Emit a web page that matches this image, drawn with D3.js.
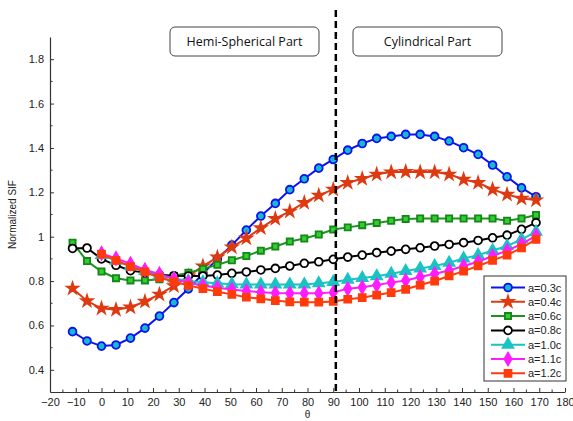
<!DOCTYPE html>
<html>
<head>
<meta charset="utf-8">
<script src="https://cdn.jsdelivr.net/npm/d3@7"></script>
<style>
  body { margin: 0; background: #fff; }
  svg { display: block; }
</style>
</head>
<body>
<svg id="chart"></svg>
<script>
// angle positions along the crack front
var theta = [-11.25, -5.625, 0, 5.625, 11.25, 16.875, 22.5, 28.125, 33.75, 39.375, 45,
  50.625, 56.25, 61.875, 67.5, 73.125, 78.75, 84.375, 90, 95.625, 101.25, 106.875,
  112.5, 118.125, 123.75, 129.375, 135, 140.625, 146.25, 151.875, 157.5, 163.125, 168.75];

var seriesNames = ["a=0.3c", "a=0.4c", "a=0.6c", "a=0.8c", "a=1.0c", "a=1.1c", "a=1.2c"];

var sifA03 = [0.572, 0.530, 0.507, 0.512, 0.543, 0.588, 0.642, 0.703, 0.765, 0.833, 0.900,
  0.962, 1.030, 1.093, 1.150, 1.212, 1.261, 1.309, 1.348, 1.390, 1.420, 1.443,
  1.452, 1.461, 1.461, 1.452, 1.431, 1.401, 1.371, 1.323, 1.270, 1.220, 1.180];
var sifA04 = [0.767, 0.710, 0.677, 0.671, 0.682, 0.708, 0.740, 0.778, 0.822, 0.867, 0.907,
  0.953, 0.993, 1.039, 1.081, 1.114, 1.153, 1.186, 1.213, 1.243, 1.261, 1.281,
  1.291, 1.293, 1.291, 1.291, 1.281, 1.258, 1.243, 1.213, 1.190, 1.172, 1.165];
var sifA06 = [0.973, 0.890, 0.843, 0.813, 0.803, 0.803, 0.808, 0.823, 0.838, 0.855, 0.873,
  0.894, 0.913, 0.937, 0.956, 0.978, 0.992, 1.010, 1.032, 1.042, 1.052, 1.062,
  1.072, 1.080, 1.082, 1.082, 1.082, 1.082, 1.082, 1.082, 1.072, 1.082, 1.098];
var sifA08 = [0.947, 0.949, 0.900, 0.871, 0.847, 0.838, 0.828, 0.824, 0.823, 0.823, 0.827,
  0.835, 0.841, 0.850, 0.857, 0.868, 0.880, 0.887, 0.898, 0.908, 0.917, 0.928,
  0.935, 0.943, 0.950, 0.958, 0.965, 0.973, 0.983, 0.995, 1.007, 1.033, 1.063];
var sifA10 = [null, null, 0.917, 0.892, 0.868, 0.846, 0.826, 0.812, 0.800, 0.795, 0.790,
  0.786, 0.785, 0.785, 0.785, 0.785, 0.785, 0.790, 0.796, 0.806, 0.814, 0.822,
  0.833, 0.845, 0.857, 0.868, 0.883, 0.902, 0.917, 0.938, 0.958, 0.988, 1.022];
var sifA11 = [null, null, 0.925, 0.902, 0.878, 0.850, 0.832, 0.810, 0.793, 0.780, 0.770,
  0.762, 0.755, 0.750, 0.746, 0.745, 0.745, 0.745, 0.749, 0.765, 0.772, 0.782,
  0.793, 0.803, 0.818, 0.833, 0.848, 0.868, 0.887, 0.913, 0.937, 0.967, 1.005];
var sifA12 = [null, null, 0.921, 0.893, 0.865, 0.841, 0.815, 0.798, 0.780, 0.766, 0.752,
  0.740, 0.727, 0.720, 0.712, 0.706, 0.705, 0.705, 0.708, 0.718, 0.725, 0.737,
  0.748, 0.763, 0.782, 0.800, 0.823, 0.845, 0.868, 0.893, 0.917, 0.950, 0.988];

var xTicks = [-20, -10, 0, 10, 20, 30, 40, 50, 60, 70, 80, 90, 100, 110, 120, 130, 140, 150, 160, 170, 180];
var yTicks = [0.4, 0.6, 0.8, 1, 1.2, 1.4, 1.6, 1.8];
var dividerTheta = 91;
var regionLabels = ["Hemi-Spherical Part", "Cylindrical Part"];

var W = 573, H = 421;
var m = { left: 50, right: 8, top: 37, bottom: 29 };

var svg = d3.select("#chart").attr("width", W).attr("height", H);

var x = d3.scaleLinear().domain([-20, 180]).range([m.left, W - m.right]);
var y = d3.scaleLinear().domain([0.3, 1.9]).range([H - m.bottom, m.top]);

// styles per series, same order as seriesNames
var styles = [
  { line: "#0a14f0", fill: "#19b8cc", stroke: "#0a14f0", sym: d3.symbolCircle, size: 48 },
  { line: "#de3a12", fill: "#de3a12", stroke: "#de3a12", sym: d3.symbolStar, size: 38 },
  { line: "#1d951d", fill: "#2fd02f", stroke: "#17851a", sym: d3.symbolSquare, size: 38 },
  { line: "#000000", fill: "#ffffff", stroke: "#000000", sym: d3.symbolCircle, size: 48 },
  { line: "#18c3c3", fill: "#18c3c3", stroke: "#18c3c3", sym: d3.symbolTriangle, size: 50 },
  { line: "#ff1cff", fill: "#ff1cff", stroke: "#ff1cff", sym: d3.symbolDiamond, size: 46 },
  { line: "#ff3b0c", fill: "#ff3b0c", stroke: "#ff3b0c", sym: d3.symbolSquare, size: 48 }
];
var values = [sifA03, sifA04, sifA06, sifA08, sifA10, sifA11, sifA12];

var series = seriesNames.map(function(name, i) {
  return {
    name: name,
    style: styles[i],
    points: theta.map(function(t, j) { return { t: t, v: values[i][j] }; })
      .filter(function(p) { return p.v != null; })
  };
});

// axes
var axisFont = "'Liberation Sans', Arial, sans-serif";

var xAxis = svg.append("g")
  .attr("transform", "translate(0," + (H - m.bottom) + ")")
  .call(d3.axisBottom(x).tickValues(xTicks).tickFormat(d3.format("d"))
    .tickSizeInner(-4).tickSizeOuter(0).tickPadding(6));
xAxis.append("g").selectAll("line")
  .data(d3.range(-15, 180, 10))
  .enter().append("line")
  .attr("x1", function(d) { return x(d); })
  .attr("x2", function(d) { return x(d); })
  .attr("y1", 0).attr("y2", -2.5)
  .attr("stroke", "#333");

var yAxis = svg.append("g")
  .attr("transform", "translate(" + m.left + ",0)")
  .call(d3.axisLeft(y).tickValues(yTicks).tickFormat(function(d) { return d === 1 ? "1" : d3.format(".1f")(d); })
    .tickSizeInner(-4).tickSizeOuter(0).tickPadding(6));
yAxis.append("g").selectAll("line")
  .data([0.5, 0.7, 0.9, 1.1, 1.3, 1.5, 1.7])
  .enter().append("line")
  .attr("y1", function(d) { return y(d); })
  .attr("y2", function(d) { return y(d); })
  .attr("x1", 0).attr("x2", 2.5)
  .attr("stroke", "#333");

svg.selectAll(".domain").attr("stroke", "#333").attr("stroke-width", 1.2);
svg.selectAll(".tick line").attr("stroke", "#333");
svg.selectAll(".tick text")
  .attr("font-family", axisFont)
  .attr("font-size", 11)
  .attr("fill", "#222");

svg.append("text")
  .attr("transform", "translate(16," + ((m.top + H - m.bottom) / 2) + ") rotate(-90)")
  .attr("text-anchor", "middle")
  .attr("font-family", axisFont)
  .attr("font-size", 10)
  .attr("fill", "#222")
  .text("Normalized SIF");

svg.append("text")
  .attr("x", (m.left + W - m.right) / 2)
  .attr("y", 418)
  .attr("text-anchor", "middle")
  .attr("font-family", axisFont)
  .attr("font-size", 10)
  .attr("fill", "#222")
  .text("θ");

// lines and markers
var line = d3.line()
  .x(function(d) { return x(d.t); })
  .y(function(d) { return y(d.v); });

var gSeries = svg.selectAll(".series")
  .data(series)
  .enter().append("g")
  .attr("class", "series");

gSeries.append("path")
  .attr("d", function(s) { return line(s.points); })
  .attr("fill", "none")
  .attr("stroke", function(s) { return s.style.line; })
  .attr("stroke-width", 2);

gSeries.each(function(s) {
  d3.select(this).selectAll("path.mk")
    .data(s.points)
    .enter().append("path")
    .attr("class", "mk")
    .attr("transform", function(d) { return "translate(" + x(d.t) + "," + y(d.v) + ")"; })
    .attr("d", d3.symbol().type(s.style.sym).size(s.style.size))
    .attr("fill", s.style.fill)
    .attr("stroke", s.style.stroke)
    .attr("stroke-width", 1.8);
});

// divider between the two parts
svg.append("line")
  .attr("x1", x(dividerTheta)).attr("x2", x(dividerTheta))
  .attr("y1", 10).attr("y2", H - m.bottom)
  .attr("stroke", "#000")
  .attr("stroke-width", 2.5)
  .attr("stroke-dasharray", "7,4");

// region labels
var boxes = [
  { x0: 170, x1: 319, label: regionLabels[0] },
  { x0: 353, x1: 502, label: regionLabels[1] }
];
var gBox = svg.selectAll(".region")
  .data(boxes)
  .enter().append("g");
gBox.append("rect")
  .attr("x", function(d) { return d.x0; })
  .attr("y", 27)
  .attr("width", function(d) { return d.x1 - d.x0; })
  .attr("height", 29)
  .attr("rx", 5)
  .attr("fill", "#fff")
  .attr("stroke", "#444")
  .attr("stroke-width", 1);
gBox.append("text")
  .attr("x", function(d) { return (d.x0 + d.x1) / 2; })
  .attr("y", 46)
  .attr("text-anchor", "middle")
  .attr("font-family", "'Open Sans', 'Noto Sans', sans-serif")
  .attr("font-size", 12.5)
  .attr("fill", "#111")
  .text(function(d) { return d.label; });

// legend
var legend = svg.append("g").attr("transform", "translate(484,276)");
legend.append("rect")
  .attr("width", 82)
  .attr("height", 105)
  .attr("fill", "#fff")
  .attr("stroke", "#333")
  .attr("stroke-width", 1);

var item = legend.selectAll(".item")
  .data(series)
  .enter().append("g")
  .attr("transform", function(d, i) { return "translate(0," + (11.5 + i * 14.3) + ")"; });
item.append("line")
  .attr("x1", 7).attr("x2", 41)
  .attr("stroke", function(d) { return d.style.line; })
  .attr("stroke-width", 2);
item.append("path")
  .attr("transform", "translate(24,0)")
  .attr("d", function(d) { return d3.symbol().type(d.style.sym).size(d.style.size)(); })
  .attr("fill", function(d) { return d.style.fill; })
  .attr("stroke", function(d) { return d.style.stroke; })
  .attr("stroke-width", 1.8);
item.append("text")
  .attr("x", 44)
  .attr("y", 4)
  .attr("font-family", axisFont)
  .attr("font-size", 11)
  .attr("fill", "#222")
  .text(function(d) { return d.name; });
</script>
</body>
</html>
